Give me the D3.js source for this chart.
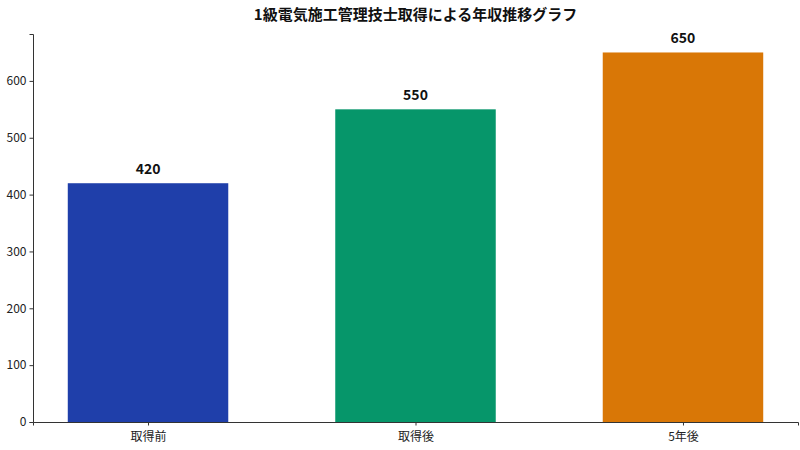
<!DOCTYPE html>
<html>
<head>
<meta charset="utf-8">
<script src="https://cdn.jsdelivr.net/npm/d3@7"></script>
<style>
  body { margin: 0; background: #fff; }
  text { font-family: "Noto Sans CJK JP", "Noto Sans", sans-serif; }
  .axis path, .axis line { stroke: #333; }
  .axis text { font-size: 12px; fill: #222; }
</style>
</head>
<body>
<div id="plot"></div>
<script>
var categories = ["取得前", "取得後", "5年後"];
var values = [420, 550, 650];
var colors = ["#1f3faa", "#06966a", "#d97706"];
var yTicks = [0, 100, 200, 300, 400, 500, 600];
var title = "1級電気施工管理技士取得による年収推移グラフ";

var margin = { top: 34, right: 2, bottom: 28, left: 33 };
var width = 800 - margin.left - margin.right;
var height = 450 - margin.top - margin.bottom;

var svg = d3.select("div#plot")
  .append("svg")
    .attr("width", 800)
    .attr("height", 450)
  .append("g")
    .attr("transform", "translate(" + margin.left + "," + margin.top + ")");

// matplotlib-like x range: -0.43 .. 2.43
var xscale = d3.scaleLinear()
  .domain([-0.43, categories.length - 1 + 0.43])
  .range([0, width]);

var yscale = d3.scaleLinear()
  .domain([0, d3.max(values) * 1.05])
  .range([height, 0]);

var barW = xscale(0.6) - xscale(0);

svg.selectAll("rect.bar")
  .data(values)
  .enter().append("rect")
    .attr("class", "bar")
    .attr("x", function(d, i) { return xscale(i) - barW / 2; })
    .attr("y", function(d) { return yscale(d); })
    .attr("width", barW)
    .attr("height", function(d) { return height - yscale(d); })
    .style("fill", function(d, i) { return colors[i]; });

svg.selectAll("text.val")
  .data(values)
  .enter().append("text")
    .attr("class", "val")
    .attr("x", function(d, i) { return xscale(i); })
    .attr("y", function(d) { return yscale(d) - 9; })
    .attr("text-anchor", "middle")
    .style("font-size", "14px")
    .style("font-weight", "bold")
    .style("fill", "#111")
    .text(function(d) { return d; });

var xAxis = d3.axisBottom(xscale)
  .tickValues(d3.range(categories.length))
  .tickFormat(function(i) { return categories[i]; })
  .tickSizeOuter(0)
  .tickSize(3.5);

var yAxis = d3.axisLeft(yscale)
  .tickValues(yTicks)
  .tickSizeOuter(0)
  .tickSize(3.5);

svg.append("g")
  .attr("class", "x axis")
  .attr("transform", "translate(0," + height + ")")
  .call(xAxis)
  .selectAll("text").attr("dy", "1.05em");

svg.append("g")
  .attr("class", "y axis")
  .call(yAxis);

svg.append("text")
  .attr("x", width / 2)
  .attr("y", -14)
  .attr("text-anchor", "middle")
  .style("font-size", "15px")
  .style("font-weight", "bold")
  .style("fill", "#111")
  .text(title);
</script>
</body>
</html>
